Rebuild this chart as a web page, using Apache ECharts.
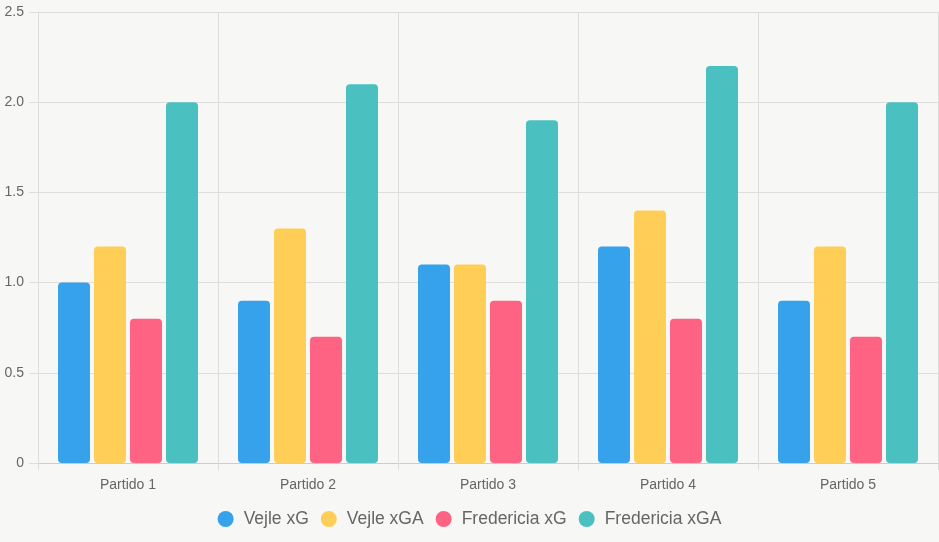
<!DOCTYPE html>
<html>
<head>
<meta charset="utf-8">
<script src="https://cdn.jsdelivr.net/npm/echarts@6/dist/echarts.min.js"></script>
<style>
  html, body { margin: 0; padding: 0; background: #f7f7f5; }
  #chart { width: 939px; height: 542px; }
</style>
</head>
<body>
<div id="chart"></div>
<script>
var categories = ['Partido 1', 'Partido 2', 'Partido 3', 'Partido 4', 'Partido 5'];
var vejleXG = [1.0, 0.9, 1.1, 1.2, 0.9];
var vejleXGA = [1.2, 1.3, 1.1, 1.4, 1.2];
var fredericiaXG = [0.8, 0.7, 0.9, 0.8, 0.7];
var fredericiaXGA = [2.0, 2.1, 1.9, 2.2, 2.0];

var seriesNames = ['Vejle xG', 'Vejle xGA', 'Fredericia xG', 'Fredericia xGA'];
var seriesData = [vejleXG, vejleXGA, fredericiaXG, fredericiaXGA];
var colors = ['#36a2eb', '#ffce56', '#ff6384', '#4bc0c0'];

function makeSeries(i) {
	return {
		name: seriesNames[i],
		type: 'bar',
		data: seriesData[i],
		barWidth: 32,
		barGap: '12.5%',
		itemStyle: {
			color: colors[i],
			borderRadius: 4
		}
	};
}

var chart = echarts.init(document.getElementById('chart'));

var option = {
	backgroundColor: '#f7f7f5',
	color: colors,
	animation: false,
	textStyle: { fontFamily: 'Arial, "Liberation Sans", sans-serif' },
	grid: {
		left: 38,
		right: 1,
		top: 12,
		bottom: 79
	},
	legend: {
		bottom: 9,
		left: 'center',
		icon: 'circle',
		itemWidth: 16,
		itemHeight: 16,
		itemGap: 12,
		textStyle: { color: '#666', fontSize: 17.5, padding: [0, 0, 0, 5] },
		data: seriesNames
	},
	xAxis: {
		type: 'category',
		data: categories,
		axisLine: { lineStyle: { color: '#ccc' } },
		axisTick: { show: true, length: 7, lineStyle: { color: '#ddd' } },
		splitLine: { show: true, lineStyle: { color: '#ddd' } },
		axisLabel: { color: '#666', fontSize: 14, margin: 15 }
	},
	yAxis: {
		type: 'value',
		min: 0,
		max: 2.5,
		interval: 0.5,
		axisLine: { show: true, lineStyle: { color: '#ddd' } },
		axisTick: { show: true, length: 9, lineStyle: { color: '#ddd' } },
		splitLine: { show: true, lineStyle: { color: '#ddd' } },
		axisLabel: {
			color: '#666',
			fontSize: 14,
			margin: 14,
			formatter: function (v) { return v === 0 ? '0' : v.toFixed(1); }
		}
	},
	series: [makeSeries(0), makeSeries(1), makeSeries(2), makeSeries(3)]
};

chart.setOption(option);
</script>
</body>
</html>
